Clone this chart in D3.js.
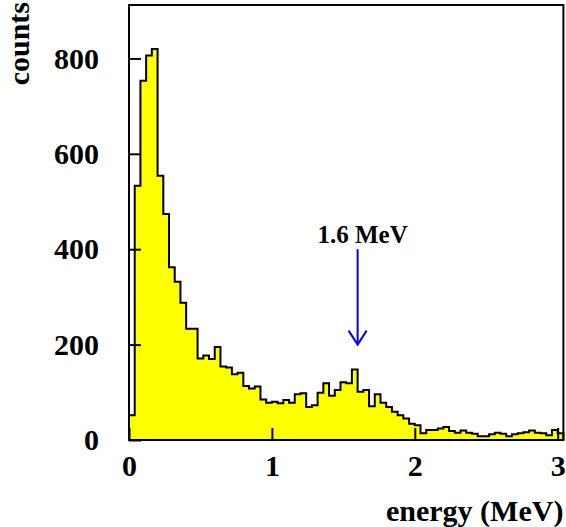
<!DOCTYPE html>
<html>
<head>
<meta charset="utf-8">
<script src="https://cdn.jsdelivr.net/npm/d3@7"></script>
<style>
  html, body { margin: 0; padding: 0; background: #fff; }
  svg text { font-family: "Liberation Serif", "Times New Roman", serif; font-weight: bold; }
</style>
</head>
<body>
<svg id="chart" width="566" height="527"></svg>
<script>
// ---- data ----
const binWidth = 0.04;          // MeV
const xMin = 0, xMax = 3.04;    // histogram range (76 bins)
const counts = [
  52, 533, 753, 806, 820, 554, 474, 362, 332, 288,
  233, 233, 171, 177, 170, 195, 154, 152, 138, 141,
  113, 108, 112, 85, 78, 80, 77, 84, 78, 96,
  98, 69, 73, 99, 119, 93, 105, 121, 119, 148,
  101, 105, 71, 96, 78, 69, 59, 52, 45, 34,
  31, 14, 21, 21, 24, 27, 19, 15, 20, 15,
  13, 8, 8, 12, 15, 13, 8, 12, 14, 16,
  20, 15, 14, 10, 21, 14
];
const xTicks = [0, 1, 2, 3];
const yTicks = [0, 200, 400, 600, 800];
const yMax = 912;
const arrowEnergy = 1.6, arrowFrom = 400, arrowTo = 200;
const arrowLabel = "1.6 MeV";
const xTitle = "energy (MeV)", yTitle = "counts";

// ---- layout ----
const svg = d3.select("#chart");
const L = 129, R = 563.4, T = 5, B = 440;
const x = d3.scaleLinear().domain([xMin, xMax]).range([L, R]);
const y = d3.scaleLinear().domain([0, yMax]).range([B, T]);

// histogram outline points
const pts = [[xMin, 0]];
counts.forEach((c, i) => {
  const lo = xMin + i * binWidth, hi = lo + binWidth;
  pts.push([lo, c], [hi, c]);
});
pts.push([xMin + counts.length * binWidth, 0]);

const line = d3.line().x(d => x(d[0])).y(d => y(d[1]));
svg.append("path")
  .attr("d", line(pts) + "Z")
  .attr("fill", "#ffff00")
  .attr("stroke", "none");
svg.append("path")
  .attr("d", line(pts))
  .attr("fill", "none")
  .attr("stroke", "#000")
  .attr("stroke-width", 2)
  .attr("stroke-linejoin", "miter");

// frame
svg.append("rect")
  .attr("x", L).attr("y", T)
  .attr("width", R - L).attr("height", B - T)
  .attr("fill", "none").attr("stroke", "#000").attr("stroke-width", 2);

// axes
const fmt = d3.format("d");
const yAxis = d3.axisLeft(y).tickValues(yTicks).tickFormat(fmt).tickSizeInner(-12).tickSizeOuter(0).tickPadding(30);
const gy = svg.append("g").attr("transform", `translate(${L},0)`).call(yAxis);
const xAxis = d3.axisBottom(x).tickValues(xTicks).tickFormat(fmt).tickSizeInner(-12).tickSizeOuter(0).tickPadding(15);
const gx = svg.append("g").attr("transform", `translate(0,${B})`).call(xAxis);
[gx, gy].forEach(g => {
  g.select(".domain").remove();
  g.selectAll(".tick line").attr("stroke", "#000").attr("stroke-width", 2);
  g.selectAll(".tick text")
    .attr("fill", "#000")
    .style("font-size", "30px")
    .style("font-family", "'Liberation Serif', serif")
    .style("font-weight", "bold");
});

// axis titles
svg.append("text")
  .attr("x", R).attr("y", 521)
  .attr("text-anchor", "end")
  .style("font-size", "30px")
  .text(xTitle);
svg.append("text")
  .attr("transform", "translate(29,2) rotate(-90)")
  .attr("text-anchor", "end")
  .style("font-size", "30px")
  .text(yTitle);

// arrow annotation
const ax = x(arrowEnergy);
svg.append("line")
  .attr("x1", ax).attr("x2", ax)
  .attr("y1", y(arrowFrom)).attr("y2", y(arrowTo))
  .attr("stroke", "#0000ff").attr("stroke-width", 2);
svg.append("path")
  .attr("d", `M${ax - 9},${y(arrowTo) - 14}L${ax},${y(arrowTo)}L${ax + 9},${y(arrowTo) - 14}`)
  .attr("fill", "none").attr("stroke", "#0000ff").attr("stroke-width", 2);
svg.append("text")
  .attr("x", ax + 5).attr("y", 243)
  .attr("text-anchor", "middle")
  .style("font-size", "25px")
  .text(arrowLabel);
</script>
</body>
</html>
